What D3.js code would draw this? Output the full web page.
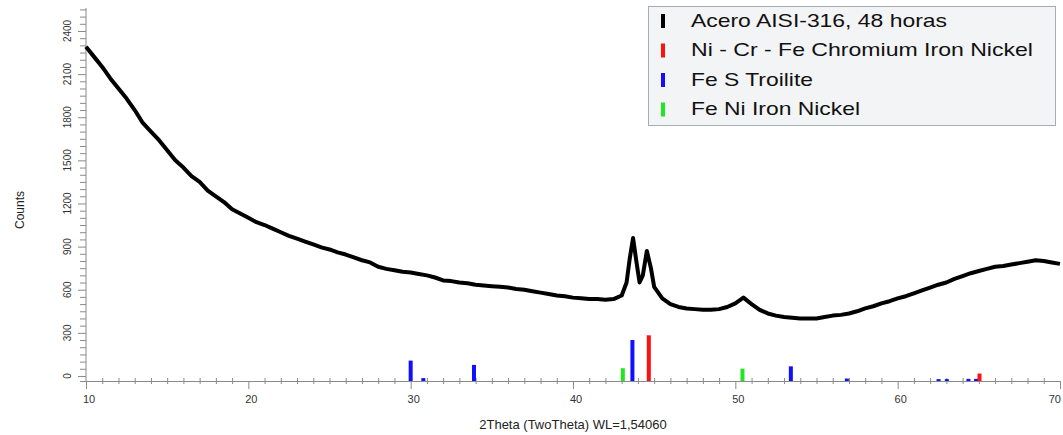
<!DOCTYPE html>
<html><head><meta charset="utf-8">
<script src="https://cdn.jsdelivr.net/npm/d3@7"></script>
<style>body{margin:0;background:#fff}svg{display:block;font-family:"Liberation Sans",Arial,sans-serif}</style>
</head><body><svg id="c" width="1063" height="435"></svg>
<script>
// 2Theta positions (degrees) and counts of the measured pattern
const theta = [10,10.5,11,11.5,12,12.5,13,13.5,14,14.5,15,15.5,16,16.5,17,17.5,18,18.5,19,19.5,
20,20.5,21,21.5,22,22.5,23,23.5,24,24.5,25,25.5,26,26.5,27,27.5,28,28.5,29,29.5,
30,30.5,31,31.5,32,32.5,33,33.5,34,34.5,35,35.5,36,36.5,37,37.5,38,38.5,39,39.5,
40,40.5,41,41.5,42,42.5,43,43.3,43.5,43.7,43.9,44.1,44.3,44.55,44.8,45,45.5,46,46.5,47,47.5,48,48.5,49,49.5,
50,50.5,51,51.5,52,52.5,53,53.5,54,54.5,55,55.5,56,56.5,57,57.5,58,58.5,59,59.5,
60,60.5,61,61.5,62,62.5,63,63.5,64,64.5,65,65.5,66,66.5,67,67.5,68,68.5,69,69.5,70];
const counts = [2290,2220,2150,2070,2000,1930,1850,1760,1700,1640,1570,1500,1450,1390,1350,1290,1250,1210,1160,1130,
1100,1070,1050,1025,1000,975,955,935,915,895,880,860,845,825,805,790,760,745,735,725,
720,710,700,685,665,660,650,645,635,630,625,620,615,605,600,590,580,570,560,555,
545,540,535,535,530,535,560,650,820,960,800,650,700,870,750,620,540,500,480,470,465,460,460,465,480,
505,545,500,460,435,420,410,405,400,400,400,410,420,425,435,450,470,485,505,520,
540,555,575,595,615,635,650,675,695,715,730,745,760,765,775,785,795,805,800,790,780];

// reference sticks: [2Theta, counts]
const feS = [[30.0,107],[30.78,-15],[33.9,77],[43.66,250],[53.42,67],[56.87,-18],[62.52,-22],[63.03,-22],[64.36,-20],[64.83,-20]];
const niCrFe = [[44.67,283],[65.04,17]];
const feNi = [[43.07,54],[50.44,51]];

const yTicks = [0,300,600,900,1200,1500,1800,2100,2400];
const xTicks = [10,20,30,40,50,60,70];
const legendNames = ["Acero AISI-316, 48 horas","Ni - Cr - Fe Chromium Iron Nickel","Fe S Troilite","Fe Ni Iron Nickel"];
const legendColors = ["#000000","#ff1010","#1010ff","#22e622"];

const svg = d3.select("#c");
const x = d3.scaleLinear().domain([10,70]).range([86,1060]);
const y = d3.scaleLinear().domain([-35,2560]).range([381,8]);
const axisColor = "#8a8a8a";

// y axis
const gy = svg.append("g");
gy.append("line").attr("x1",86).attr("x2",86).attr("y1",y(2560)).attr("y2",381).attr("stroke",axisColor);
const yMinor = d3.range(0,2551,50);
gy.selectAll("line.m").data(yMinor).join("line").attr("class","m")
  .attr("x1",d=>yTicks.includes(d)?78:80).attr("x2",86).attr("y1",d=>y(d)+0.5).attr("y2",d=>y(d)+0.5)
  .attr("stroke",axisColor);
gy.selectAll("text").data(yTicks).join("text")
  .attr("transform",d=>`translate(71,${y(d)}) rotate(-90)`)
  .attr("text-anchor","middle").attr("font-size",10).attr("fill","#333").text(d=>d);

// x axis
const gx = svg.append("g");
gx.append("line").attr("x1",80).attr("x2",1060).attr("y1",381.5).attr("y2",381.5).attr("stroke",axisColor);
gx.selectAll("line.m").data(d3.range(10,71,1)).join("line").attr("class","m")
  .attr("x1",d=>x(d)+0.5).attr("x2",d=>x(d)+0.5)
  .attr("y1",d=>xTicks.includes(d)?381:378).attr("y2",d=>xTicks.includes(d)?389:384)
  .attr("stroke",axisColor);
gx.selectAll("text").data(xTicks).join("text")
  .attr("x",d=>d===70?1061:x(d)+3).attr("y",403)
  .attr("text-anchor",d=>d===70?"end":"middle").attr("font-size",11).attr("fill","#333").text(d=>d);

svg.append("text").attr("x",573).attr("y",429).attr("text-anchor","middle").attr("font-size",13).attr("fill","#222")
  .text("2Theta (TwoTheta) WL=1,54060");
svg.append("text").attr("transform","translate(24,210) rotate(-90)").attr("text-anchor","middle")
  .attr("font-size",12).attr("fill","#222").text("Counts");

// pattern
const pts = theta.map((t,i)=>[t,counts[i]]);
const line = d3.line().x(d=>x(d[0])).y(d=>y(d[1]));
svg.append("path").attr("d",line(pts)).attr("fill","none").attr("stroke","#000")
  .attr("stroke-width",4).attr("stroke-linejoin","round");

// sticks
function sticks(data,color){
  svg.append("g").selectAll("rect").data(data).join("rect")
    .attr("x",d=>x(d[0])-2).attr("width",4)
    .attr("y",d=>y(d[1])).attr("height",d=>y(-35)-y(d[1]))
    .attr("fill",color);
}
sticks(feS,legendColors[2]);
sticks(niCrFe,legendColors[1]);
sticks(feNi,legendColors[3]);

// legend
const legendWidths = [256,342,122,169];
const lg = svg.append("g");
lg.append("rect").attr("x",648.5).attr("y",6.5).attr("width",407).attr("height",119)
  .attr("fill","#f3f4f6").attr("stroke","#a4acb4");
legendNames.forEach((n,i)=>{
  const cy = 20 + i*29.5;
  lg.append("rect").attr("x",661).attr("y",cy-6).attr("width",4).attr("height",14).attr("fill",legendColors[i]);
  lg.append("text").attr("x",691).attr("y",cy+6.5).attr("font-size",19).attr("fill","#111")
    .attr("textLength",legendWidths[i]).attr("lengthAdjust","spacingAndGlyphs").text(n);
});
</script></body></html>
